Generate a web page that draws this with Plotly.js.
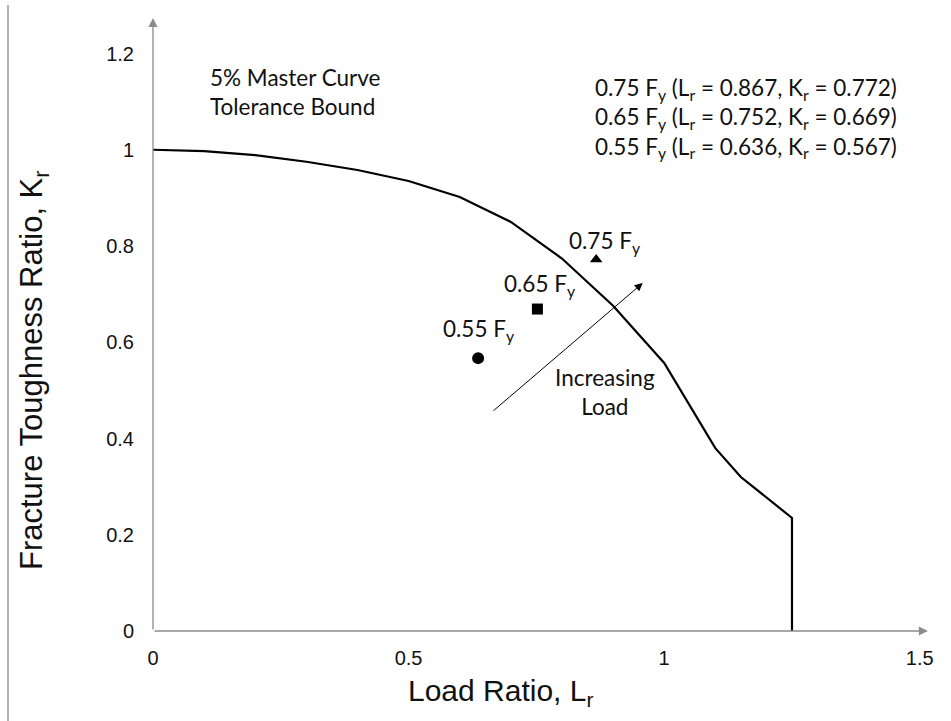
<!DOCTYPE html>
<html>
<head>
<meta charset="utf-8">
<script src="https://cdn.plot.ly/plotly-3.0.1.min.js"></script>
<style>html,body{margin:0;padding:0;background:#fff;}#chart{width:951px;height:721px;}</style>
</head>
<body>
<div id="chart"></div>
<script>
// Master curve (5% tolerance bound)
const curveLr = [0, 0.1, 0.2, 0.3, 0.4, 0.5, 0.6, 0.7, 0.8, 0.9, 1.0, 1.1, 1.15, 1.25, 1.25];
const curveKr = [1.0, 0.997, 0.989, 0.975, 0.958, 0.935, 0.902, 0.850, 0.774, 0.676, 0.557, 0.380, 0.320, 0.235, 0];

// Load cases
const caseNames = ["0.55 F<sub>y</sub>", "0.65 F<sub>y</sub>", "0.75 F<sub>y</sub>"];
const caseLr = [0.636, 0.752, 0.867];
const caseKr = [0.567, 0.669, 0.772];
const caseSymbols = ["circle", "square", "triangle-up"];

const xTicks = [0, 0.5, 1, 1.5];
const xTickText = ["0", "0.5", "1", "1.5"];
const yTicks = [0, 0.2, 0.4, 0.6, 0.8, 1, 1.2];
const yTickText = ["0", "0.2", "0.4", "0.6", "0.8", "1", "1.2"];

const annFont = {family: "Lato, 'Open Sans', sans-serif", size: 22.5, color: "#111"};
const axFont = {family: "Liberation Sans, Arial, sans-serif", size: 20, color: "#111"};
const titleFont = {family: "Liberation Sans, Arial, sans-serif", size: 30, color: "#111"};

const traces = [
  {x: curveLr, y: curveKr, type: "scatter", mode: "lines", line: {color: "#000", width: 2.2}, hoverinfo: "skip"}
];
for (let i = 0; i < caseLr.length; i++) {
  traces.push({x: [caseLr[i]], y: [caseKr[i]], type: "scatter", mode: "markers",
    marker: {symbol: caseSymbols[i], size: i === 0 ? 12 : 11, color: "#000"}});
}

const L = 153, R = 21, T = 15, B = 90;
const plotW = 951 - L - R, plotH = 721 - T - B;
const px = v => (v - L) / plotW;           // pixel x -> paper
const py = v => (721 - B - v) / plotH;     // pixel y -> paper

const annotations = [
  // axis arrows
  {x: 1.516, y: 0, ax: 0, ay: 0, xref: "x", yref: "y", axref: "x", ayref: "y", text: "", showarrow: true,
   arrowhead: 2, arrowsize: 1.4, arrowwidth: 1.3, arrowcolor: "#8c8c8c"},
  {x: 0, y: 1.274, ax: 0, ay: 0, xref: "x", yref: "y", axref: "x", ayref: "y", text: "", showarrow: true,
   arrowhead: 2, arrowsize: 1.4, arrowwidth: 1.3, arrowcolor: "#8c8c8c"},
  // increasing load arrow
  {x: 0.958, y: 0.723, ax: 0.663, ay: 0.455, xref: "x", yref: "y", axref: "x", ayref: "y", text: "", showarrow: true,
   arrowhead: 2, arrowsize: 1.6, arrowwidth: 1, arrowcolor: "#000"},
  {x: 0.884, y: 0.497, xref: "x", yref: "y", text: "Increasing<br>Load", showarrow: false, font: annFont, align: "center"},
  // point labels
  {x: 0.636, y: 0.626, xref: "x", yref: "y", text: caseNames[0], showarrow: false, font: annFont},
  {x: 0.757, y: 0.719, xref: "x", yref: "y", text: caseNames[1], showarrow: false, font: annFont},
  {x: 0.884, y: 0.809, xref: "x", yref: "y", text: caseNames[2], showarrow: false, font: annFont},
  // curve title
  {x: 0.1076, y: 1.12, xref: "x", yref: "y", xanchor: "left", text: "5% Master Curve<br>Tolerance Bound", showarrow: false, font: annFont, align: "left"},
  // case list
  {x: 0.861, y: 1.067, xref: "x", yref: "y", xanchor: "left", align: "left", showarrow: false, font: annFont,
   text: caseNames[2] + " (L<sub>r</sub> = " + caseLr[2].toFixed(3) + ", K<sub>r</sub> = " + caseKr[2].toFixed(3) + ")<br>" +
         caseNames[1] + " (L<sub>r</sub> = " + caseLr[1].toFixed(3) + ", K<sub>r</sub> = " + caseKr[1].toFixed(3) + ")<br>" +
         caseNames[0] + " (L<sub>r</sub> = " + caseLr[0].toFixed(3) + ", K<sub>r</sub> = " + caseKr[0].toFixed(3) + ")"},
  // axis titles
  {x: px(500), y: py(713), xref: "paper", yref: "paper", text: "Load Ratio, L<sub>r</sub>", showarrow: false, font: titleFont},
  {x: px(12), y: py(370), xref: "paper", yref: "paper", textangle: -90,
   text: "Fracture Toughness Ratio, K<sub>r</sub>", showarrow: false, font: {family: titleFont.family, size: 31, color: "#111"}}
];

const layout = {
  width: 951, height: 721,
  margin: {l: L, r: R, t: T, b: B},
  paper_bgcolor: "#fff", plot_bgcolor: "#fff",
  showlegend: false,
  xaxis: {range: [0, 1.52], tickvals: xTicks, ticktext: xTickText, showgrid: false, zeroline: false,
    showline: false, ticks: "", ticklabelstandoff: 13, tickfont: axFont},
  yaxis: {range: [0, 1.28], tickvals: yTicks, ticktext: yTickText, showgrid: false, zeroline: false,
    showline: false, ticks: "", ticklabelstandoff: 18, tickfont: axFont},
  annotations: annotations,
  shapes: [
    {type: "line", xref: "paper", yref: "paper", x0: px(8), x1: px(8), y0: py(721), y1: py(5), line: {color: "#999", width: 1.5}}
  ]
};

Plotly.newPlot("chart", traces, layout, {displayModeBar: false, staticPlot: true});
</script>
</body>
</html>
